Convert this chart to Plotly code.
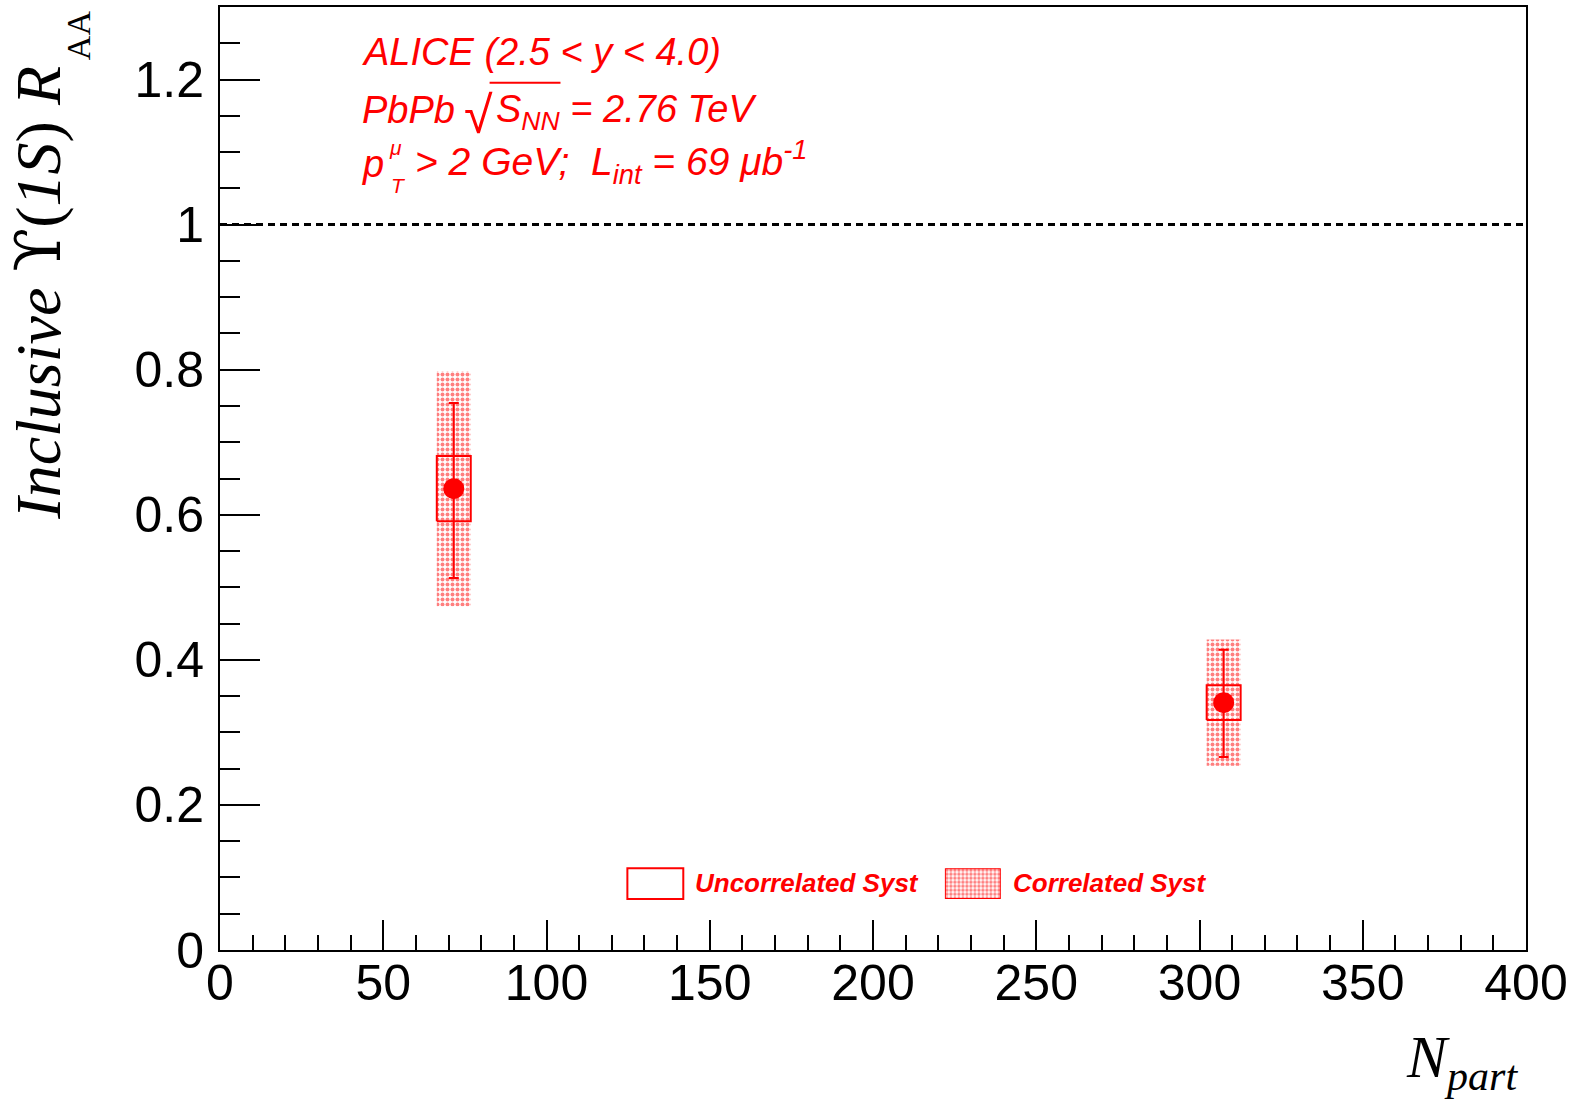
import plotly.graph_objects as go

# ---------------- data ----------------
npart = [71.6, 307.4]
raa = [0.636, 0.341]
stat_err_up = [0.118, 0.073]
stat_err_dn = [0.123, 0.075]
uncorr_syst = [0.045, 0.024]
corr_syst = [0.162, 0.087]

x_tickvals = [0, 50, 100, 150, 200, 250, 300, 350, 400]
x_ticktext = ["0", "50", "100", "150", "200", "250", "300", "350", "400"]
y_tickvals = [0, 0.2, 0.4, 0.6, 0.8, 1.0, 1.2]
y_ticktext = ["0", "0.2", "0.4", "0.6", "0.8", "1", "1.2"]
UNITY = 1.0

# ---------------- style ----------------
RED = "#ff0000"
BOX_HALF = 5.2
W, H = 1573, 1103
PL, PR, PT, PB = 220, 1528, 5, 950


def paper(xp, yp):
    return (xp - PL) / (PR - PL), (PB - yp) / (PB - PT)


def boxes(xs, ys, errs):
    bx, by = [], []
    for x, y, e in zip(xs, ys, errs):
        bx += [x - BOX_HALF, x + BOX_HALF, x + BOX_HALF, x - BOX_HALF, x - BOX_HALF, None]
        by += [y - e, y - e, y + e, y + e, y - e, None]
    return bx, by


fig = go.Figure()

cx, cy = boxes(npart, raa, corr_syst)
fig.add_trace(go.Scatter(
    x=cx, y=cy, mode="lines", fill="toself", line=dict(width=0, color="rgba(0,0,0,0)"),
    fillcolor="rgba(0,0,0,0)",
    fillpattern=dict(shape=".", fgcolor=RED, bgcolor="rgba(255,255,255,0)", size=5, solidity=0.5),
    showlegend=False, hoverinfo="skip"))

ux, uy = boxes(npart, raa, uncorr_syst)
fig.add_trace(go.Scatter(
    x=ux, y=uy, mode="lines", line=dict(width=2, color=RED),
    showlegend=False, hoverinfo="skip"))

fig.add_trace(go.Scatter(
    x=npart, y=raa, mode="markers",
    marker=dict(symbol="circle", size=21, color=RED),
    error_y=dict(type="data", symmetric=False, array=stat_err_up, arrayminus=stat_err_dn,
                 color=RED, thickness=2, width=5),
    showlegend=False))

# legend correlated box (pattern) on an overlay axis
lx0, ly0 = paper(946, 899)
lx1, ly1 = paper(1002, 868)
fig.add_trace(go.Scatter(
    x=[0, 1, 1, 0, 0], y=[0, 0, 1, 1, 0], xaxis="x2", yaxis="y2",
    mode="lines", fill="toself", line=dict(width=2, color=RED), fillcolor="rgba(0,0,0,0)",
    fillpattern=dict(shape=".", fgcolor=RED, bgcolor="rgba(255,255,255,0)", size=4, solidity=0.55),
    showlegend=False, hoverinfo="skip"))

shapes = []
# unity dotted line
shapes.append(dict(type="line", xref="x", yref="y", x0=x_tickvals[0], x1=x_tickvals[-1],
                   y0=UNITY, y1=UNITY, line=dict(color="black", width=3, dash="7px,5px")))
# uncorrelated legend box
ux0, uy0 = paper(628, 899)
ux1, uy1 = paper(684, 868)
shapes.append(dict(type="rect", xref="paper", yref="paper", x0=ux0, x1=ux1, y0=uy0, y1=uy1,
                   line=dict(color=RED, width=2), fillcolor="rgba(0,0,0,0)"))
# overline for sqrt
ox0, oy = paper(490, 81)
ox1, _ = paper(561, 81)
shapes.append(dict(type="line", xref="paper", yref="paper", x0=ox0, x1=ox1, y0=oy, y1=oy,
                   line=dict(color=RED, width=2)))

SANS = "Liberation Sans"
SERIF = "Liberation Serif"


def ann(text, xp, yp, size, family=SANS, color=RED, style="italic", weight="normal",
        xanchor="left", yanchor="middle", angle=0):
    x, y = paper(xp, yp)
    return dict(text=text, x=x, y=y, xref="paper", yref="paper", showarrow=False,
                xanchor=xanchor, yanchor=yanchor, textangle=angle, borderpad=0,
                font=dict(family=family, size=size, color=color, style=style, weight=weight))


annotations = [
    ann("ALICE (2.5 &lt; y &lt; 4.0)", 361, 50, 38),
    ann("PbPb", 361, 108, 38),
    ann("√", 494, 113, 52, style="normal", xanchor="right"),
    ann("S<sub>NN</sub> = 2.76 TeV", 495, 110, 38),
    ann("p", 361, 162, 38),
    ann("μ", 388, 146, 21),
    ann("T", 390, 184, 21),
    ann("&gt; 2 GeV;  L<sub>int</sub> = 69 μb<sup>-1</sup>", 414, 160, 39),
    ann("Uncorrelated Syst", 695, 883, 26, weight="bold"),
    ann("Correlated Syst", 1013, 883, 26, weight="bold"),
    ann("<i>Inclusive</i> <span style='font-family:DejaVu Serif'>ϒ</span>(<i>1S</i>) <i>R</i>",
        38, 291, 64, family=SERIF, color="black", style="normal", xanchor="center",
        yanchor="middle", angle=-90),
    ann("AA", 79, 33, 34, family=SERIF, color="black", style="normal", xanchor="center",
        yanchor="middle", angle=-90),
    ann("<i>N</i><sub><i>part</i></sub>", 1521, 1062, 60, family=SERIF, color="black",
        style="normal", xanchor="right"),
]

axis_common = dict(showline=True, linecolor="black", linewidth=2, mirror=True,
                   ticks="inside", tickcolor="black", tickwidth=2, showgrid=False,
                   zeroline=False, tickmode="array",
                   tickfont=dict(family=SANS, size=50, color="black"))

fig.update_layout(
    width=W, height=H, autosize=False,
    margin=dict(l=PL, r=W - PR, t=PT, b=H - PB),
    paper_bgcolor="white", plot_bgcolor="white",
    xaxis=dict(range=[0, 400], tickvals=x_tickvals, ticktext=x_ticktext, ticklen=30,
               ticklabelstandoff=-12,
               minor=dict(dtick=10, tick0=0, ticklen=15, tickwidth=2, ticks="inside",
                          tickcolor="black"),
               **axis_common),
    yaxis=dict(range=[0, 1.3], tickvals=y_tickvals, ticktext=y_ticktext, ticklen=40,
               ticklabelstandoff=4,
               minor=dict(dtick=0.05, tick0=0, ticklen=20, tickwidth=2, ticks="inside",
                          tickcolor="black"),
               **axis_common),
    xaxis2=dict(domain=[lx0, lx1], range=[0, 1], anchor="y2", visible=False, fixedrange=True),
    yaxis2=dict(domain=[ly0, ly1], range=[0, 1], anchor="x2", visible=False, fixedrange=True),
    shapes=shapes,
    annotations=annotations,
    showlegend=False,
)

fig.write_html("out.html")
